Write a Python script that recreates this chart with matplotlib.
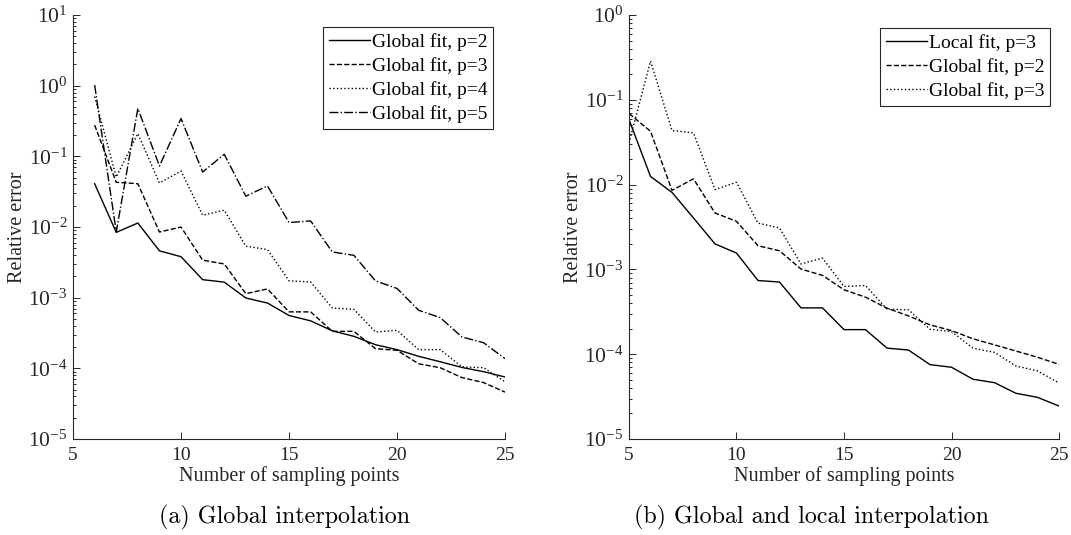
import numpy as np
import matplotlib
matplotlib.use("Agg")
import matplotlib.pyplot as plt
from matplotlib.ticker import LogLocator, NullFormatter

# Data
n_left = list(range(6, 26))
global_p2 = [0.041, 0.0084, 0.0114, 0.0046, 0.0038, 0.0018, 0.00166, 0.00099, 0.00084, 0.00056,
             0.00047, 0.00034, 0.000284, 0.000216, 0.000184, 0.000148, 0.000124, 0.000103, 0.0000898, 0.0000754]
global_p3 = [0.277, 0.043, 0.041, 0.0085, 0.0100, 0.0034, 0.0030, 0.00114, 0.00133, 0.00063,
             0.00063, 0.000334, 0.000334, 0.00019, 0.00018, 0.000116, 0.000102, 0.0000741, 0.000063, 0.0000461]
global_p4 = [0.70, 0.051, 0.21, 0.042, 0.062, 0.0147, 0.0173, 0.00535, 0.0048, 0.00173,
             0.00167, 0.000715, 0.000685, 0.000327, 0.000345, 0.000184, 0.000184, 0.000105, 0.000102, 0.0000645]
global_p5 = [1.02, 0.0085, 0.476, 0.073, 0.343, 0.060, 0.107, 0.0273, 0.0382, 0.01156,
             0.0122, 0.00444, 0.00398, 0.00173, 0.00135, 0.000664, 0.000522, 0.000278, 0.000231, 0.000137]

n_right = list(range(5, 26))
local_p3 = [0.0586, 0.0125, 0.0081, 0.00404, 0.0020, 0.00156, 0.00074, 0.00071, 0.000352, 0.000352,
            0.000195, 0.000195, 0.000118, 0.000112, 0.0000754, 0.0000702, 0.0000507, 0.0000462, 0.0000346,
            0.000031, 0.0000245]
glob_p2 = [0.069, 0.0426, 0.00857, 0.0117, 0.00463, 0.00369, 0.0019, 0.00166, 0.00101, 0.00085,
           0.000575, 0.000471, 0.000349, 0.000283, 0.000222, 0.00019, 0.000152, 0.000129, 0.000109,
           0.000092, 0.000076]
glob_p3 = [0.031, 0.286, 0.0435, 0.0408, 0.00873, 0.01065, 0.00352, 0.00308, 0.00116, 0.00136,
           0.00063, 0.000646, 0.00034, 0.000334, 0.000197, 0.000185, 0.000118, 0.000105, 0.0000727,
           0.0000636, 0.0000457]

x_ticks = [5, 10, 15, 20, 25]

plt.rcParams['font.family'] = ['Liberation Serif', 'DejaVu Serif']
plt.rcParams['mathtext.fontset'] = 'custom'
plt.rcParams['mathtext.rm'] = 'Liberation Serif'
plt.rcParams['mathtext.it'] = 'Liberation Serif:italic'

AXIS_GRAY = '#262626'


def style_axes(ax, ylim):
    ax.set_yscale('log')
    ax.set_xlim(5, 25)
    ax.set_ylim(*ylim)
    ax.set_xticks(x_ticks)
    ax.yaxis.set_major_locator(LogLocator(base=10, numticks=20))
    ax.yaxis.set_minor_locator(LogLocator(base=10, subs=np.arange(2, 10), numticks=20))
    ax.yaxis.set_minor_formatter(NullFormatter())
    ax.spines['top'].set_visible(False)
    ax.spines['right'].set_visible(False)
    for s in ('left', 'bottom'):
        ax.spines[s].set_color(AXIS_GRAY)
        ax.spines[s].set_linewidth(0.8)
    ax.tick_params(which='both', direction='in', colors=AXIS_GRAY, width=0.7)
    ax.tick_params(which='major', length=5)
    ax.tick_params(which='minor', length=2.5)
    ax.tick_params(axis='x', pad=6, labelsize=14)
    ax.tick_params(axis='y', pad=4, labelsize=15.5)
    ax.set_xlabel('Number of sampling points', fontsize=14.5, color=AXIS_GRAY, labelpad=1)
    ax.set_ylabel('Relative error', fontsize=14.5, color=AXIS_GRAY, labelpad=1)


fig = plt.figure(figsize=(10.71, 5.35), dpi=100)
ax1 = fig.add_axes([0.0682, 0.1794, 0.4034, 0.7925])
ax2 = fig.add_axes([0.5873, 0.1794, 0.4015, 0.7925])

lw = 1.0
ax1.plot(n_left, global_p2, '-', color='black', lw=lw, label='Global fit, p=2')
ax1.plot(n_left, global_p3, '--', color='black', lw=lw, label='Global fit, p=3')
ax1.plot(n_left, global_p4, ':', color='black', lw=lw, label='Global fit, p=4')
ax1.plot(n_left, global_p5, '-.', color='black', lw=lw, label='Global fit, p=5')
style_axes(ax1, (1e-5, 1e1))

ax2.plot(n_right, local_p3, '-', color='black', lw=lw, label='Local fit, p=3')
ax2.plot(n_right, glob_p2, '--', color='black', lw=lw, label='Global fit, p=2')
ax2.plot(n_right, glob_p3, ':', color='black', lw=lw, label='Global fit, p=3')
style_axes(ax2, (1e-5, 1e0))

for ax, anchor in ((ax1, (0.972, 0.972)), (ax2, (0.979, 0.969))):
    leg = ax.legend(loc='upper right', bbox_to_anchor=anchor, borderaxespad=0,
                    fontsize=14, fancybox=False, framealpha=1, handlelength=2.1,
                    handletextpad=0.1, borderpad=0.3, labelspacing=0.32)
    leg.get_frame().set_edgecolor(AXIS_GRAY)
    leg.get_frame().set_linewidth(0.8)

fig.text(0.266, 0.032, '(a) Global interpolation', fontsize=17.3, family='cmr10',
         ha='center', va='center')
fig.text(0.758, 0.032, '(b) Global and local interpolation', fontsize=17.3, family='cmr10',
         ha='center', va='center')

fig.savefig('out.png', dpi=100)
